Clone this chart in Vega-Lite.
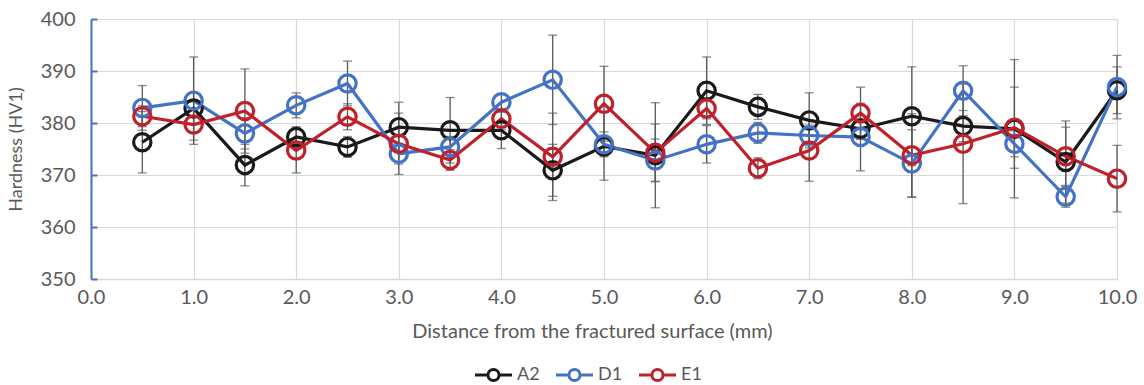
{
  "$schema": "https://vega.github.io/schema/vega-lite/v6.json",
  "width": 1026,
  "height": 260,
  "autosize": {"type": "none"},
  "padding": {"left": 91, "top": 19, "right": 27, "bottom": 106},
  "background": "white",
  "config": {
    "font": "Lato",
    "view": {"stroke": null},
    "axis": {"labelFont": "Lato", "titleFont": "Lato", "labelColor": "#595959", "titleColor": "#595959", "labelFontSize": 20, "titleFontSize": 18, "titleFontWeight": "normal", "gridColor": "#d9d9d9", "gridWidth": 1.2}
  },
  "data": {"values": [
    {"x":0.5,"s":"A2","v":376.3,"lo":370.4,"hi":382.2},
    {"x":1.0,"s":"A2","v":382.8,"lo":379.8,"hi":385.8},
    {"x":1.5,"s":"A2","v":371.9,"lo":367.9,"hi":375.9},
    {"x":2.0,"s":"A2","v":377.3,"lo":375.3,"hi":379.3},
    {"x":2.5,"s":"A2","v":375.4,"lo":373.4,"hi":377.4},
    {"x":3.0,"s":"A2","v":379.2,"lo":374.4,"hi":384.0},
    {"x":3.5,"s":"A2","v":378.6,"lo":372.3,"hi":384.9},
    {"x":4.0,"s":"A2","v":378.6,"lo":375.1,"hi":382.1},
    {"x":4.5,"s":"A2","v":370.9,"lo":365.9,"hi":375.9},
    {"x":5.0,"s":"A2","v":375.5,"lo":369.0,"hi":382.0},
    {"x":5.5,"s":"A2","v":373.8,"lo":363.7,"hi":383.9},
    {"x":6.0,"s":"A2","v":386.2,"lo":379.7,"hi":392.7},
    {"x":6.5,"s":"A2","v":383.1,"lo":380.7,"hi":385.5},
    {"x":7.0,"s":"A2","v":380.5,"lo":375.2,"hi":385.8},
    {"x":7.5,"s":"A2","v":378.9,"lo":376.9,"hi":380.9},
    {"x":8.0,"s":"A2","v":381.3,"lo":371.8,"hi":390.8},
    {"x":8.5,"s":"A2","v":379.4,"lo":376.4,"hi":382.4},
    {"x":9.0,"s":"A2","v":378.9,"lo":365.6,"hi":392.2},
    {"x":9.5,"s":"A2","v":372.5,"lo":364.6,"hi":380.4},
    {"x":10.0,"s":"A2","v":386.3,"lo":381.8,"hi":390.8},
    {"x":0.5,"s":"D1","v":382.9,"lo":378.6,"hi":387.2},
    {"x":1.0,"s":"D1","v":384.3,"lo":375.9,"hi":392.7},
    {"x":1.5,"s":"D1","v":378.0,"lo":375.0,"hi":381.0},
    {"x":2.0,"s":"D1","v":383.4,"lo":381.0,"hi":385.8},
    {"x":2.5,"s":"D1","v":387.6,"lo":383.3,"hi":391.9},
    {"x":3.0,"s":"D1","v":374.1,"lo":372.1,"hi":376.1},
    {"x":3.5,"s":"D1","v":375.4,"lo":373.4,"hi":377.4},
    {"x":4.0,"s":"D1","v":384.0,"lo":382.4,"hi":385.6},
    {"x":4.5,"s":"D1","v":388.3,"lo":379.7,"hi":396.9},
    {"x":5.0,"s":"D1","v":375.9,"lo":373.5,"hi":378.3},
    {"x":5.5,"s":"D1","v":372.8,"lo":368.7,"hi":376.9},
    {"x":6.0,"s":"D1","v":375.9,"lo":372.3,"hi":379.5},
    {"x":6.5,"s":"D1","v":378.1,"lo":376.1,"hi":380.1},
    {"x":7.0,"s":"D1","v":377.6,"lo":375.6,"hi":379.6},
    {"x":7.5,"s":"D1","v":377.3,"lo":370.8,"hi":383.8},
    {"x":8.0,"s":"D1","v":372.2,"lo":365.7,"hi":378.7},
    {"x":8.5,"s":"D1","v":386.2,"lo":381.4,"hi":391.0},
    {"x":9.0,"s":"D1","v":376.0,"lo":373.5,"hi":378.5},
    {"x":9.5,"s":"D1","v":365.8,"lo":363.8,"hi":367.8},
    {"x":10.0,"s":"D1","v":386.9,"lo":380.8,"hi":393.0},
    {"x":0.5,"s":"E1","v":381.3,"lo":379.3,"hi":383.3},
    {"x":1.0,"s":"E1","v":379.7,"lo":376.7,"hi":382.7},
    {"x":1.5,"s":"E1","v":382.3,"lo":374.2,"hi":390.4},
    {"x":2.0,"s":"E1","v":374.7,"lo":370.4,"hi":379.0},
    {"x":2.5,"s":"E1","v":381.2,"lo":378.7,"hi":383.7},
    {"x":3.0,"s":"E1","v":376.0,"lo":370.1,"hi":381.9},
    {"x":3.5,"s":"E1","v":372.9,"lo":370.9,"hi":374.9},
    {"x":4.0,"s":"E1","v":380.8,"lo":378.8,"hi":382.8},
    {"x":4.5,"s":"E1","v":373.5,"lo":365.1,"hi":381.9},
    {"x":5.0,"s":"E1","v":383.7,"lo":376.5,"hi":390.9},
    {"x":5.5,"s":"E1","v":374.3,"lo":368.8,"hi":379.8},
    {"x":6.0,"s":"E1","v":382.8,"lo":380.8,"hi":384.8},
    {"x":6.5,"s":"E1","v":371.3,"lo":369.3,"hi":373.3},
    {"x":7.0,"s":"E1","v":374.7,"lo":368.8,"hi":380.6},
    {"x":7.5,"s":"E1","v":381.9,"lo":376.9,"hi":386.9},
    {"x":8.0,"s":"E1","v":373.8,"lo":365.8,"hi":381.8},
    {"x":8.5,"s":"E1","v":376.0,"lo":364.5,"hi":387.5},
    {"x":9.0,"s":"E1","v":379.1,"lo":371.3,"hi":386.9},
    {"x":9.5,"s":"E1","v":373.6,"lo":368.0,"hi":379.2},
    {"x":10.0,"s":"E1","v":369.3,"lo":362.9,"hi":375.7}
  ]},
  "encoding": {
    "x": {"field": "x", "type": "quantitative",
      "scale": {"domain": [0, 10], "nice": false, "zero": false},
      "axis": {"title": "Distance from the fractured surface (mm)", "titleFontSize": 20, "titleX": 501, "values": [0,1,2,3,4,5,6,7,8,9,10], "format": ".1f", "ticks": false, "labelFlush": false, "domainColor": "#d9d9d9", "domainWidth": 1.5, "labelPadding": 8, "titlePadding": 14}}
  },
  "layer": [
    {
      "mark": {"type": "rule", "color": "#595959", "strokeWidth": 1.3},
      "encoding": {
        "y": {"field": "lo", "type": "quantitative", "scale": {"domain": [350, 400], "nice": false, "zero": false},
          "axis": {"title": "Hardness (HV1)", "values": [350,360,370,380,390,400], "domainColor": "#4472C4", "domainWidth": 2, "tickColor": "#4472C4", "tickSize": -6, "tickWidth": 2, "labelPadding": 22, "titlePadding": 15}},
        "y2": {"field": "hi"}
      }
    },
    {
      "mark": {"type": "tick", "orient": "horizontal", "color": "#595959", "thickness": 1.3, "size": 9},
      "encoding": {"y": {"field": "lo", "type": "quantitative"}}
    },
    {
      "mark": {"type": "tick", "orient": "horizontal", "color": "#595959", "thickness": 1.3, "size": 9},
      "encoding": {"y": {"field": "hi", "type": "quantitative"}}
    },
    {
      "mark": {"type": "line", "strokeWidth": 3.2},
      "encoding": {
        "y": {"field": "v", "type": "quantitative"},
        "color": {"field": "s", "type": "nominal",
          "scale": {"domain": ["A2", "D1", "E1"], "range": ["#1a1a1a", "#4472C4", "#C0202A"]}}
      }
    },
    {
      "mark": {"type": "point", "filled": false, "strokeWidth": 3.2, "size": 300, "opacity": 1},
      "encoding": {
        "y": {"field": "v", "type": "quantitative"},
        "color": {"field": "s", "type": "nominal",
          "scale": {"domain": ["A2", "D1", "E1"], "range": ["#1a1a1a", "#4472C4", "#C0202A"]},
          "legend": {"title": null, "orient": "none", "direction": "horizontal", "legendX": 382, "legendY": 335,
            "symbolType": "M-1,0L-0.3,0M0.3,0L1,0M-0.3,0A0.3,0.3 0 1,1 0.3,0A0.3,0.3 0 1,1 -0.3,0",
            "symbolSize": 1370, "symbolStrokeWidth": 3, "symbolFillColor": "transparent",
            "labelFontSize": 18, "labelColor": "#595959", "labelFont": "Lato", "columnPadding": 9, "labelOffset": 3}}
      }
    }
  ]
}
